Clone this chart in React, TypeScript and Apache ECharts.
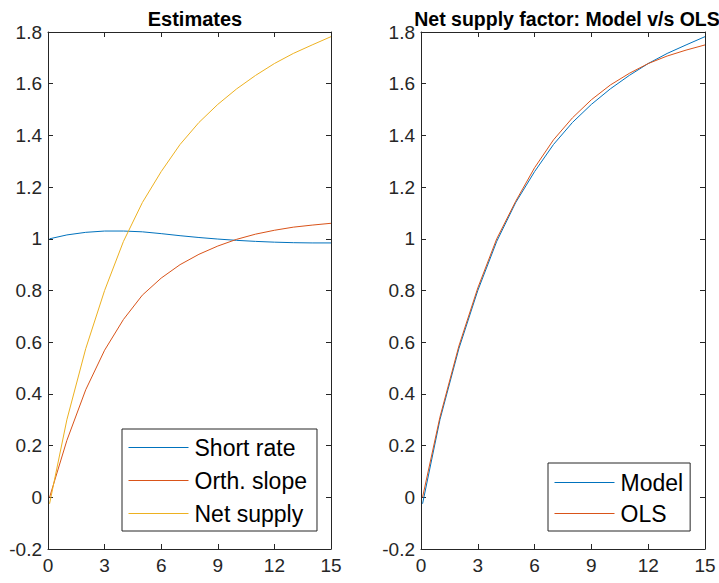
import React, { useEffect, useRef } from "react";
import * as echarts from "echarts";

const maturities = [1 / 12, 1, 2, 3, 4, 5, 6, 7, 8, 9, 10, 11, 12, 13, 14, 15];
const shortRate = [1.0, 1.015, 1.025, 1.03, 1.03, 1.027, 1.02, 1.012, 1.005, 0.999, 0.994, 0.99, 0.987, 0.985, 0.984, 0.984];
const orthSlope = [0.0, 0.22, 0.416, 0.569, 0.688, 0.782, 0.848, 0.9, 0.94, 0.972, 0.998, 1.018, 1.033, 1.045, 1.053, 1.06];
const netSupply = [-0.025, 0.3, 0.575, 0.8, 0.99, 1.14, 1.26, 1.365, 1.45, 1.52, 1.58, 1.632, 1.678, 1.717, 1.75, 1.782];
const olsSupply = [0.0, 0.31, 0.585, 0.81, 1.0, 1.145, 1.275, 1.383, 1.468, 1.538, 1.595, 1.64, 1.678, 1.707, 1.73, 1.75];

const xTicksInterval = 3;
const yMin = -0.2;
const yMax = 1.8;
const yInterval = 0.2;

const titles = ["Estimates", "Net supply factor: Model v/s OLS"];
const leftNames = ["Short rate", "Orth. slope", "Net supply"];
const rightNames = ["Model", "OLS"];

const C1 = "#0072BD";
const C2 = "#D95319";
const C3 = "#EDB120";
const AX = "#262626";
const FONT = "'Liberation Sans', Arial, sans-serif";

const zip = (xs: number[], ys: number[]) => xs.map((x, i) => [x, ys[i]]);

export default function App() {
  const ref = useRef<HTMLDivElement>(null);
  useEffect(() => {
    if (!ref.current) return;
    const chart = echarts.init(ref.current, undefined, { renderer: "svg" });
    const grids = [
      { left: 48, right: 388, top: 32, bottom: 34 },
      { left: 421, right: 14, top: 32, bottom: 34 },
    ];
    const fmtY = (v: number) => String(parseFloat(v.toFixed(1)));
    const xAxes: any[] = [];
    const yAxes: any[] = [];
    grids.forEach((_, gi) => {
      const common = {
        type: "value",
        gridIndex: gi,
        min: 0,
        max: 15,
        interval: xTicksInterval,
        splitLine: { show: false },
        axisLine: { show: true, onZero: false, lineStyle: { color: AX, width: 1 } },
        axisTick: { show: true, inside: true, length: 5, lineStyle: { color: AX } },
      };
      xAxes.push({
        ...common,
        position: "bottom",
        axisLabel: { show: true, color: AX, fontSize: 19, fontFamily: FONT, margin: 7 },
      });
      xAxes.push({ ...common, position: "top", axisLabel: { show: false } });
      const ycommon = {
        type: "value",
        gridIndex: gi,
        min: yMin,
        max: yMax,
        interval: yInterval,
        splitLine: { show: false },
        axisLine: { show: true, onZero: false, lineStyle: { color: AX, width: 1 } },
        axisTick: { show: true, inside: true, length: 5, lineStyle: { color: AX } },
      };
      yAxes.push({
        ...ycommon,
        position: "left",
        axisLabel: { show: true, color: AX, fontSize: 19, fontFamily: FONT, margin: 6, formatter: fmtY },
      });
      yAxes.push({ ...ycommon, position: "right", axisLabel: { show: false } });
    });

    const line = (name: string, data: number[], color: string, gi: number) => ({
      type: "line",
      name,
      data: zip(maturities, data),
      xAxisIndex: gi * 2,
      yAxisIndex: gi * 2,
      symbol: "none",
      showSymbol: false,
      lineStyle: { color, width: 1 },
      itemStyle: { color },
      z: 3,
    });

    const legendCommon = {
      orient: "vertical",
      itemWidth: 60,
      itemHeight: 20,
      borderColor: AX,
      borderWidth: 1,
      backgroundColor: "#fff",
      itemStyle: { opacity: 0 },
      lineStyle: { width: 1 },
      textStyle: { fontSize: 23, color: "#000", fontFamily: FONT, padding: [0, 0, 0, 1] },
    };

    chart.setOption({
      animation: false,
      backgroundColor: "#ffffff",
      title: [
        {
          text: titles[0],
          left: 190,
          textAlign: "center",
          top: 4,
          textStyle: { fontSize: 20, fontWeight: "bold", color: "#000", fontFamily: FONT },
        },
        {
          text: titles[1],
          left: 562,
          textAlign: "center",
          top: 4,
          textStyle: { fontSize: 19.5, fontWeight: "bold", color: "#000", fontFamily: FONT },
        },
      ],
      grid: grids,
      xAxis: xAxes,
      yAxis: yAxes,
      legend: [
        {
          ...legendCommon,
          data: leftNames,
          left: 122,
          top: 429,
          itemGap: 10,
          padding: [7, 10, 6, 6],
        },
        {
          ...legendCommon,
          data: rightNames,
          left: 548,
          top: 463,
          itemGap: 8,
          padding: [8, 7, 6, 6],
        },
      ],
      series: [
        line(leftNames[0], shortRate, C1, 0),
        line(leftNames[1], orthSlope, C2, 0),
        line(leftNames[2], netSupply, C3, 0),
        line(rightNames[0], netSupply, C1, 1),
        line(rightNames[1], olsSupply, C2, 1),
      ],
    });
    return () => chart.dispose();
  }, []);
  return <div ref={ref} style={{ width: 719, height: 583, position: "absolute", left: 0, top: 0 }} />;
}
